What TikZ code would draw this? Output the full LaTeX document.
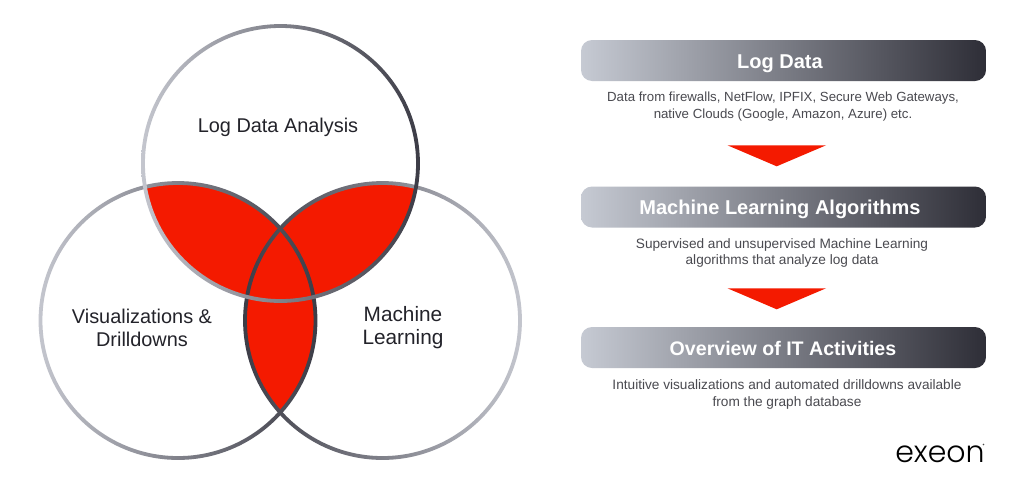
\documentclass[tikz,border=0pt]{standalone}
\usepackage{fontspec}
\setmainfont{Liberation Sans}
\newfontfamily\logofont{Poppins Light}
\definecolor{vred}{HTML}{F41A00}
\definecolor{ringlight}{HTML}{C4C6CE}
\definecolor{ringmid}{HTML}{85858F}
\definecolor{ringdark}{HTML}{3C3C46}
\definecolor{barlight}{HTML}{C6CAD3}
\definecolor{barmid}{HTML}{7F808C}
\definecolor{bardark}{HTML}{2E2E37}
\definecolor{labelc}{HTML}{23232A}
\definecolor{descc}{HTML}{4A4A50}
\tikzset{
  venn/.style={font=\fontsize{19.9}{22.5}\selectfont, text=labelc, align=center, inner sep=0pt},
  bartext/.style={font=\fontsize{20}{23}\selectfont\bfseries, text=white, inner sep=0pt},
  desc/.style={font=\fontsize{13.25}{16.6}\selectfont, text=descc, align=center, inner sep=0pt},
  descwide/.style={desc, font=\fontsize{13.65}{16.6}\selectfont},
}
\def\rr{137.5}
\def\ww{1.9}
\newcommand{\ringLR}[3]{% centre, left colour, right colour
  \shade[left color=#2, middle color=ringmid, right color=#3, even odd rule]
    (#1) circle ({\rr+\ww}) (#1) circle ({\rr-\ww});
}
\newcommand{\banner}[2]{% top, bottom
  \shade[left color=barlight, middle color=barmid, right color=bardark, rounded corners=11pt]
    (581,#1) rectangle (986,#2);
}
\begin{document}
\begin{tikzpicture}[x=1pt,y=-1pt]
\useasboundingbox (0,0) rectangle (1024,485);
\fill[white] (0,0) rectangle (1024,485);
\coordinate (T) at (280.5,163.5);
\coordinate (L) at (178,320.5);
\coordinate (R) at (382.5,320.5);
% red lenses
\begin{scope}\clip (T) circle (\rr); \fill[vred] (L) circle (\rr); \fill[vred] (R) circle (\rr);\end{scope}
\begin{scope}\clip (L) circle (\rr); \fill[vred] (R) circle (\rr);\end{scope}
% rings
\ringLR{R}{ringdark}{ringlight}
\ringLR{L}{ringlight}{ringdark}
\ringLR{T}{ringlight}{ringdark}
% venn labels
\node[venn] (t1) at (278,127.5) {Log Data Analysis};
\node[venn] (t2) at (142,328) {Visualizations \&\\Drilldowns};
\node[venn, font=\fontsize{20.8}{22.5}\selectfont] (t3) at (403,327.5) {Machine\\Learning};
% banners
\banner{40}{81}
\banner{186.5}{227.5}
\banner{327}{368}
\node[bartext] (h1) at (780,63.5) {Log Data};
\node[bartext] (h2) at (780,209) {Machine Learning Algorithms};
\node[bartext, font=\fontsize{19.6}{23}\selectfont\bfseries] (h3) at (783,348.5) {Overview of IT Activities};
\node[desc] (d1) at (783,106.5) {Data from firewalls, NetFlow, IPFIX, Secure Web Gateways,\\native Clouds (Google, Amazon, Azure) etc.};
\node[descwide] (d2) at (782,253) {Supervised and unsupervised Machine Learning\\algorithms that analyze log data};
\node[descwide] (d3) at (787,394.5) {Intuitive visualizations and automated drilldowns available\\from the graph database};
% arrows
\fill[vred] (727.5,145.3) -- (826,145.3) -- (776.7,166.3) -- cycle;
\fill[vred] (727.5,288.3) -- (826,288.3) -- (776.7,309.3) -- cycle;
% logo
\node[inner sep=0pt, text=black, font=\fontsize{30}{30}\selectfont\logofont] (logo) at (940,454) {exeon};
\fill[black!70] (983.5,444.5) circle (0.8);
\end{tikzpicture}
\end{document}
